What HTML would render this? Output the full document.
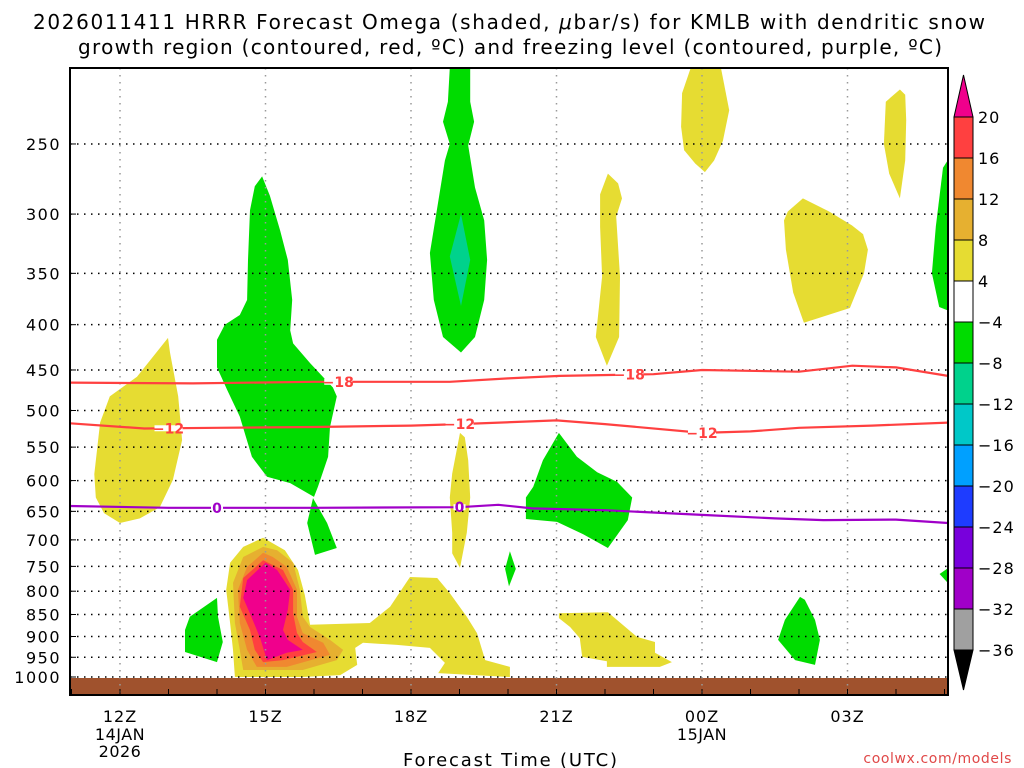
<!DOCTYPE html>
<html><head><meta charset="utf-8"><style>
body{margin:0;background:#fff;}
svg{display:block;font-family:"DejaVu Sans","Liberation Sans",sans-serif;}
</style></head><body>
<svg id="chart" width="1024" height="768" viewBox="0 0 1024 768" xmlns="http://www.w3.org/2000/svg">
<rect width="1024" height="768" fill="#fff"/>
<text x="33" y="29" font-size="20" textLength="952" lengthAdjust="spacing">2026011411 HRRR Forecast Omega (shaded, <tspan font-style="italic">μ</tspan>bar/s) for KMLB with dendritic snow</text>
<text x="78" y="54" font-size="20" textLength="864" lengthAdjust="spacing">growth region (contoured, red, ºC) and freezing level (contoured, purple, ºC)</text>
<defs><clipPath id="plotclip"><rect x="70" y="68" width="878" height="627"/></clipPath></defs>
<g id="shading" clip-path="url(#plotclip)"></g>
<g id="grid"></g>
<g id="lines" clip-path="url(#plotclip)"></g>
<g id="axes"></g>
<g id="cbar"></g>
<text x="403" y="766" font-size="18" textLength="214" lengthAdjust="spacing">Forecast Time (UTC)</text>
<text x="1012" y="763" font-size="14" text-anchor="end" letter-spacing="0.6" fill="#e04848">coolwx.com/models</text>
</svg>
<script>
// ---- data ----
const pressureTicks = [250,300,350,400,450,500,550,600,650,700,750,800,850,900,950,1000];
const hourTicks = [12,15,18,21,24,27];
const hourTickLabels = ["12Z","15Z","18Z","21Z","00Z","03Z"];
const hourTickSub = [["14JAN","2026"],[],[],[],["15JAN"],[]];
const cbarLevels = [20,16,12,8,4,-4,-8,-12,-16,-20,-24,-28,-32,-36];
const cbarColors = ["#ff4040","#f08830","#e6b030","#e6dc32","#ffffff","#00dc00","#00d28c","#00c8c8","#00a0ff","#1e3cff","#7800dc","#a000c8","#a0a0a0"];
const colYellow="#e6dc32", colGold="#e6b030", colOrange="#f08830", colRed="#ff4040", colMagenta="#f0008c", colGreen="#00dc00", colTeal="#00d28c";
// shaded omega regions: [hour, pressure]
const yellowLeft = [[12.99,414],[12.35,458],[11.79,482],[11.59,516],[11.47,590],[11.5,627],[11.67,653],[12,670],[12.41,662],[12.82,643],[13.09,599],[13.28,540],[13.2,482],[13.03,430]];
const greenBig = [[14.93,272],[15.09,286],[15.30,313],[15.46,338],[15.55,375],[15.51,406],[15.57,420],[15.92,442],[16.39,471],[16.47,482],[16.33,522],[16.29,564],[16.08,610],[16.0,626],[15.51,604],[15.03,594],[14.72,564],[14.47,508],[14.21,474],[14.0,447],[14.0,416],[14.16,400],[14.47,390],[14.62,375],[14.64,338],[14.68,297],[14.78,279]];
const greenSmall16 = [[15.98,628],[15.86,670],[16.02,728],[16.47,715],[16.27,670]];
const greenLow14 = [[14.0,814],[13.44,855],[13.34,885],[13.34,937],[14.0,962],[14.12,913],[14.02,855]];
const yellowMain = [[14.95,696],[15.40,719],[15.67,757],[15.81,808],[15.92,873],[17.15,869],[17.57,833],[17.98,771],[18.54,773],[18.80,804],[19.15,855],[19.36,892],[19.53,957],[20.04,974],[20.04,1000],[18.56,990],[18.70,964],[18.39,927],[17.71,920],[17.01,915],[16.85,927],[16.89,969],[16.54,995],[15.77,1000],[14.37,1000],[14.33,932],[14.27,869],[14.19,797],[14.27,743],[14.54,713]];
const goldCore = [[14.95,713],[14.54,732],[14.33,783],[14.37,869],[14.47,932],[14.54,982],[15.77,982],[16.47,957],[16.60,932],[16.33,908],[15.92,878],[15.77,855],[15.71,797],[15.57,743],[15.24,719]];
const orangeCore = [[14.95,724],[14.62,751],[14.43,797],[14.47,869],[14.62,932],[14.82,974],[15.44,974],[16.33,944],[16.19,915],[15.77,892],[15.65,855],[15.65,797],[15.44,751],[15.15,732]];
const redCore = [[14.95,738],[14.54,773],[14.47,833],[14.68,885],[14.78,932],[14.95,962],[15.36,957],[16.06,937],[15.77,913],[15.65,892],[15.57,847],[15.57,797],[15.36,757]];
const magentaCore = [[15.0,743],[14.62,777],[14.54,814],[14.72,858],[14.89,904],[15.03,957],[15.44,939],[15.77,932],[15.46,908],[15.36,885],[15.46,840],[15.51,797],[15.24,757]];
const yellowThin19 = [[19.01,530],[18.85,589],[18.80,627],[18.85,687],[18.85,725],[19.01,753],[19.15,687],[19.22,627],[19.18,569],[19.11,536]];
const greenDiamond20 = [[20.04,721],[19.94,755],[20.02,790],[20.16,755]];
const green21 = [[21.05,530],[20.72,569],[20.52,610],[20.37,627],[20.37,663],[21.01,668],[21.55,690],[22.06,715],[22.47,665],[22.56,627],[22.25,602],[21.84,587],[21.42,564]];
const yellowLow22 = [[21.05,847],[22.06,845],[22.66,901],[23.03,913],[23.03,939],[23.38,962],[23.13,974],[22.04,974],[22.04,960],[21.53,949],[21.48,904],[21.28,878],[21.05,858]];
const green19 = [[18.8,205],[19.22,205],[19.22,224],[19.3,236],[19.18,251],[19.32,280],[19.51,305],[19.57,338],[19.51,375],[19.32,413],[19.03,430],[18.66,413],[18.47,375],[18.39,332],[18.52,300],[18.7,261],[18.8,250],[18.66,236],[18.76,224]];
const teal19 = [[19.03,300],[18.8,335],[19.03,381],[19.22,338]];
const yellowThin22 = [[22.06,270],[21.9,285],[21.9,310],[21.94,353],[21.81,413],[22.04,445],[22.29,413],[22.31,353],[22.23,302],[22.35,288],[22.27,277]];
const yellowTop00 = [[23.77,205],[24.39,205],[24.56,229],[24.43,248],[24.25,261],[24.06,269],[23.86,263],[23.63,254],[23.57,239],[23.59,219]];
const yellow02 = [[26.08,288],[25.77,298],[25.69,305],[25.73,329],[25.88,368],[26.1,398],[27.05,383],[27.34,350],[27.42,329],[27.32,316],[27.09,309],[26.62,298]];
const yellowThin04 = [[28.08,217],[27.79,224],[27.75,250],[27.86,270],[28.08,288],[28.19,261],[28.21,235],[28.19,220]];
const greenRightTop = [[29.2,254],[28.97,266],[28.82,310],[28.74,350],[28.89,382],[29.2,388]];
const green02 = [[26.02,812],[25.71,862],[25.57,908],[25.92,957],[26.33,969],[26.43,908],[26.33,862],[26.12,818]];
const greenRightLow = [[29.2,745],[28.9,765],[29.2,797]];
// contour lines
const lineM18 = [[10.97,465],[13.5,466],[16,464],[18.8,464],[20,460],[21.07,457],[23.0,455],[24.0,450],[26.0,452],[27.1,445],[28.0,447],[29.07,457]];
const lineM12 = [[10.97,517],[12.5,524],[14,523],[16,522],[18,520],[19,518],[21,513],[22,518],[24,530],[25,528],[26,523],[27.5,520],[29.07,516]];
const lineZero = [[10.97,641],[13,644],[16,644],[19,643],[19.8,639],[20.5,645],[22,648],[24,656],[25.5,662],[26.5,665],[28,664],[29.07,670]];
const labelsM18 = [16.5,22.5];
const labelsM12 = [13.0,19.0,24.0];
const labelsZero = [14.0,19.0];

// ---- scales ----
const xs = h => 120 + 48.5*(h-12);
const ys = p => 677 - 384.5*Math.log(1000/p);
const NS = "http://www.w3.org/2000/svg";
function mk(tag, attrs, parent){const e=document.createElementNS(NS,tag);for(const k in attrs)e.setAttribute(k,attrs[k]);parent.appendChild(e);return e;}
const shading=document.getElementById('shading'), grid=document.getElementById('grid'), lines=document.getElementById('lines'), axes=document.getElementById('axes'), cbar=document.getElementById('cbar');
const pts = arr => arr.map(d=>xs(d[0]).toFixed(1)+","+ys(d[1]).toFixed(1)).join(" ");
function region(arr,color,name){
  const e=mk('polygon',{points:pts(arr),fill:color},shading);
  
  
}
region(yellowLeft,colYellow,'omega-positive-12z');
region(greenBig,colGreen,'omega-negative-15z-upper');
region(greenSmall16,colGreen,'omega-negative-16z');
region(greenLow14,colGreen,'omega-negative-14z-low');
region(yellowMain,colYellow,'omega-positive-15z-18z');
region(goldCore,colGold,'omega-core-8');
region(orangeCore,colOrange,'omega-core-12');
region(redCore,colRed,'omega-core-16');
region(magentaCore,colMagenta,'omega-core-20');
region(yellowThin19,colYellow,'omega-positive-19z');
region(greenDiamond20,colGreen,'omega-negative-20z');
region(green21,colGreen,'omega-negative-21z');
region(yellowLow22,colYellow,'omega-positive-22z-low');
region(green19,colGreen,'omega-negative-19z-upper');
region(teal19,colTeal,'omega-core-minus8');
region(yellowThin22,colYellow,'omega-positive-22z-upper');
region(yellowTop00,colYellow,'omega-positive-00z');
region(yellow02,colYellow,'omega-positive-02z');
region(yellowThin04,colYellow,'omega-positive-04z');
region(greenRightTop,colGreen,'omega-negative-05z-upper');
region(green02,colGreen,'omega-negative-02z-low');
region(greenRightLow,colGreen,'omega-negative-05z-low');
// ground
const ground=mk('rect',{x:70,y:ys(1000)+1,width:878,height:695-ys(1000)-1,fill:"#a0522d"},shading);



// grid
pressureTicks.forEach(p=>{
  const y=ys(p);
  const g=mk('line',{x1:70,x2:948,y1:y,y2:y,stroke:"#000","stroke-width":1.5,"stroke-dasharray":"1.5 5.5"},grid);
  
  
  const t=mk('text',{x:61,y:y+6,"font-size":16,"text-anchor":"end","letter-spacing":"1.5"},axes);
  t.textContent=p;
  
  
  mk('line',{x1:70,x2:76,y1:y,y2:y,stroke:"#000","stroke-width":1},axes);
});
for(let h=11;h<=29;h++){mk('line',{x1:xs(h),x2:xs(h),y1:689,y2:695,stroke:"#000","stroke-width":1},axes);}
hourTicks.forEach((h,i)=>{
  const x=xs(h);
  const g=mk('line',{x1:x,x2:x,y1:68,y2:695,stroke:"#999","stroke-width":1.5,"stroke-dasharray":"1.5 5.5"},grid);
  
  
  const t=mk('text',{x:x,y:722,"font-size":16,"text-anchor":"middle","letter-spacing":"1"},axes);
  t.textContent=hourTickLabels[i];
  
  
  hourTickSub[i].forEach((s,j)=>{
    const u=mk('text',{x:x,y:740+j*17,"font-size":16,"text-anchor":"middle","letter-spacing":"0.5"},axes);
    u.textContent=s;
    
    
  });
});
const frame=mk('rect',{x:70,y:68,width:878,height:627,fill:"none",stroke:"#000","stroke-width":2},axes);



// contour lines
function cline(arr,color,labels,text,name){
  const l=mk('polyline',{points:pts(arr),fill:"none",stroke:color,"stroke-width":2.2},lines);
  
  
  labels.forEach(h=>{
    let p=arr[0][1];
    for(let i=0;i<arr.length-1;i++){if(h>=arr[i][0]&&h<=arr[i+1][0]){const f=(h-arr[i][0])/(arr[i+1][0]-arr[i][0]);p=arr[i][1]+f*(arr[i+1][1]-arr[i][1]);}}
    const x=xs(h),y=ys(p);
    mk('rect',{x:x-(text.length>1?14:6),y:y-3,width:(text.length>1?28:12),height:6,fill:"#fff"},lines);
    const t=mk('text',{x:x,y:y+5,"font-size":14,"font-weight":"bold","text-anchor":"middle",fill:color},lines);
    t.textContent=text;
    
    
  });
}
cline(lineM18,"#ff4040",labelsM18,"−18","contour-minus18");
cline(lineM12,"#ff4040",labelsM12,"−12","contour-minus12");
cline(lineZero,"#a000c8",labelsZero,"0","freezing-level");

// colorbar
const cbTop=117, cbStep=41, cbX=954, cbW=19;
cbarColors.forEach((c,i)=>{
  const r=mk('rect',{x:cbX,y:cbTop+i*cbStep,width:cbW,height:cbStep,fill:c,stroke:"#000","stroke-width":1},cbar);
  
  
});
cbarLevels.forEach((v,i)=>{
  const t=mk('text',{x:978,y:cbTop+i*cbStep+6,"font-size":16,"letter-spacing":"1"},cbar);
  t.textContent=(v<0?"−":"")+Math.abs(v);
  
  
});
const triTop=mk('polygon',{points:`${cbX},${cbTop} ${cbX+cbW},${cbTop} ${cbX+cbW/2},${cbTop-42}`,fill:"#f0008c",stroke:"#000","stroke-width":1},cbar);


const yb=cbTop+(cbarColors.length)*cbStep;
const triBot=mk('polygon',{points:`${cbX},${yb} ${cbX+cbW},${yb} ${cbX+cbW/2},${yb+40}`,fill:"#000",stroke:"#000","stroke-width":1},cbar);


</script>
</body></html>
